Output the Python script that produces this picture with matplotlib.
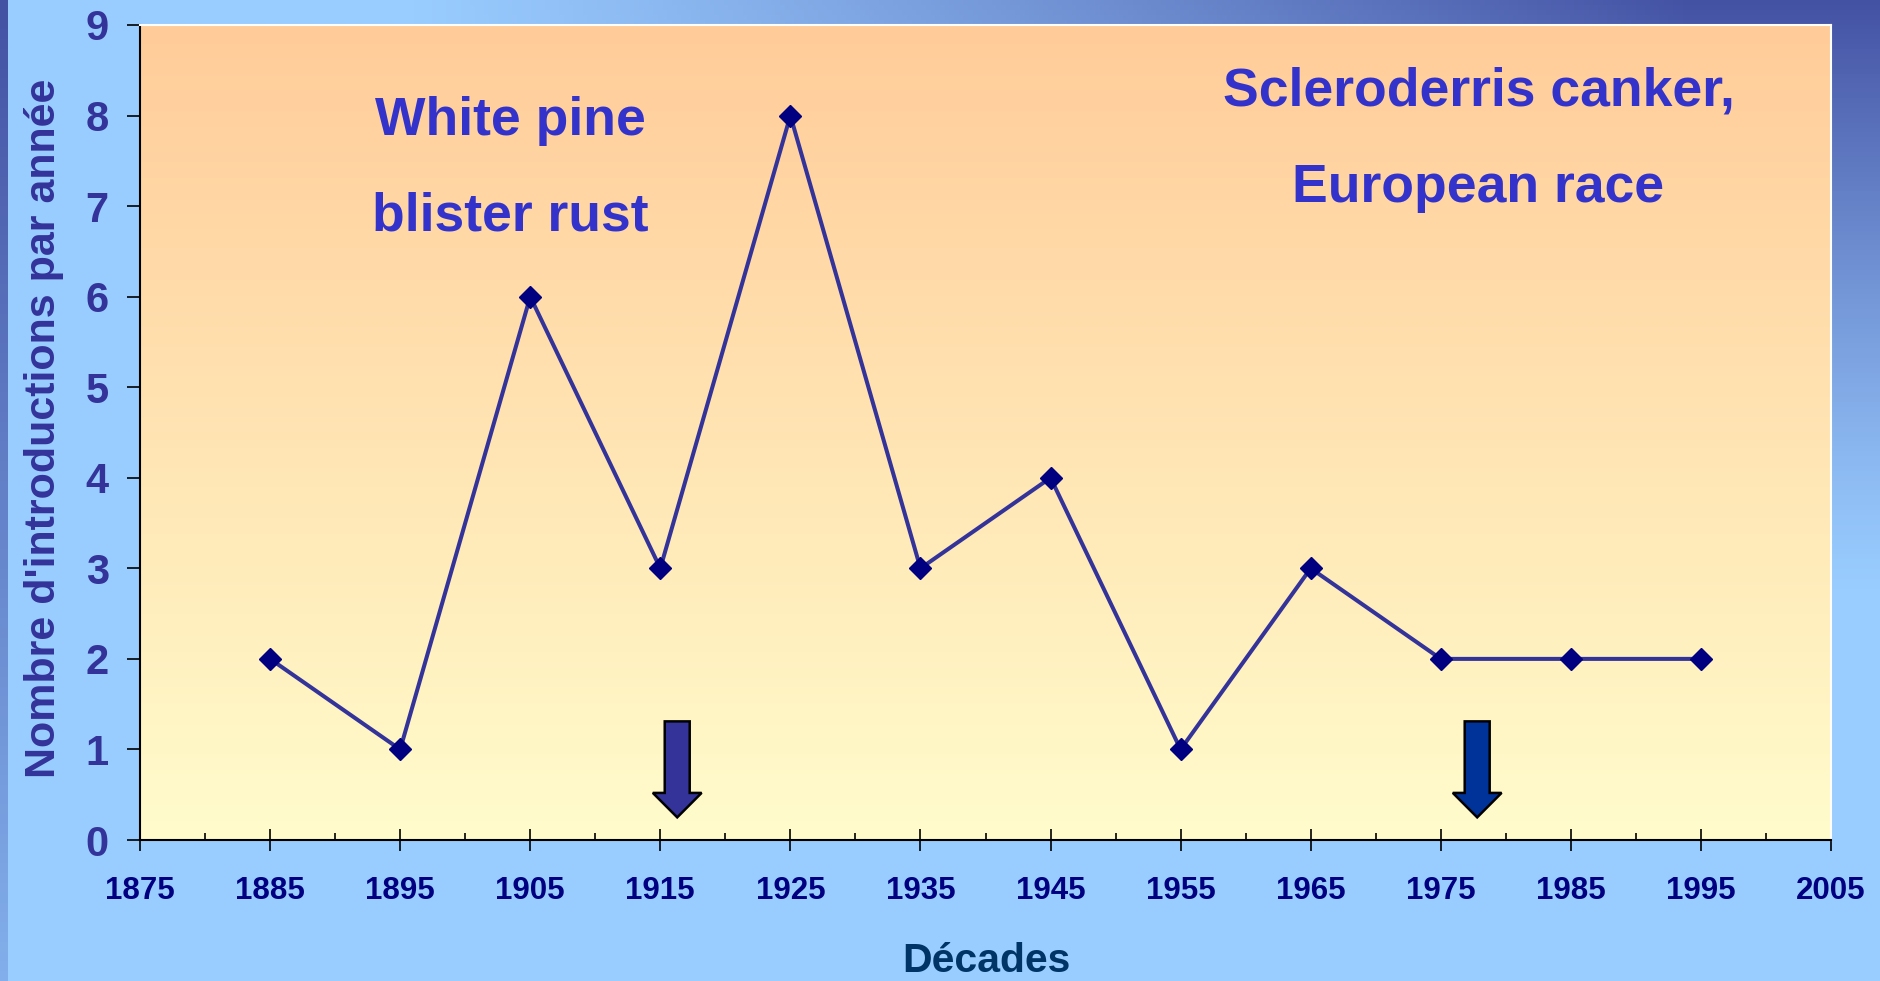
import numpy as np
import matplotlib
matplotlib.use("Agg")
import matplotlib.pyplot as plt
import matplotlib.patches as mpatches

plt.rcParams['font.family'] = ['Liberation Sans', 'DejaVu Sans']
plt.rcParams['font.weight'] = 'bold'

# ---- data ----
decades = [1885, 1895, 1905, 1915, 1925, 1935, 1945, 1955, 1965, 1975, 1985, 1995]
introductions = [2, 1, 6, 3, 8, 3, 4, 1, 3, 2, 2, 2]
xticks = [1875, 1885, 1895, 1905, 1915, 1925, 1935, 1945, 1955, 1965, 1975, 1985, 1995, 2005]
yticks = [0, 1, 2, 3, 4, 5, 6, 7, 8, 9]
annotation_lines = [["White pine", "blister rust"], ["Scleroderris canker,", "European race"]]
annotation_x = [1903.5, 1977.9]
annotation_baselines = [[7.785, 6.736], [8.116, 7.045]]
arrow_x = [1916.3, 1977.8]
arrow_colors = ['#333399', '#003399']
x_label = "Décades"
y_label = "Nombre d'introductions par année"

W, H = 1880, 981
fig = plt.figure(figsize=(W / 100, H / 100), dpi=100)

# ---- figure background gradient ----
bg = fig.add_axes([0, 0, 1, 1], zorder=-10)
ny, nx = 200, 400
xf = np.linspace(0, 1, nx)[None, :]
yf = np.linspace(0, 1, ny)[:, None]   # 0 = top
t = np.clip((xf - 0.22) / 0.68, 0, 1) ** 1.1 * np.clip(1 - yf / 0.6, 0, 1) ** 1.2
light = np.array([153, 204, 255]) / 255
dark = np.array([68, 82, 164]) / 255
img = light[None, None, :] * (1 - t[..., None]) + dark[None, None, :] * t[..., None]
bg.imshow(img, extent=[0, 1, 0, 1], aspect='auto', origin='upper')
# left stripe
st = np.linspace(0, 1, 100)[:, None]
stripe_top = np.array([68, 82, 164]) / 255
stripe_bot = np.array([130, 175, 235]) / 255
simg = stripe_top[None, None, :] * (1 - st[..., None]) + stripe_bot[None, None, :] * st[..., None]
simg = np.repeat(simg, 2, axis=1)
bg.imshow(simg, extent=[0, 8 / W, 0, 1], aspect='auto', origin='upper')
bg.set_xlim(0, 1)
bg.set_ylim(0, 1)
bg.axis('off')

# ---- main axes ----
ax = fig.add_axes([140 / W, 1 - 840 / H, (1831 - 140) / W, (840 - 25) / H])
ax.set_xlim(1875, 2005)
ax.set_ylim(0, 9)
ax.patch.set_alpha(0)

# plot area gradient
pg = np.linspace(0, 1, 256)[:, None]
ptop = np.array([255, 204, 153]) / 255
pbot = np.array([255, 252, 204]) / 255
pimg = ptop[None, None, :] * (1 - pg[..., None]) + pbot[None, None, :] * pg[..., None]
pimg = np.repeat(pimg, 2, axis=1)
ax.imshow(pimg, extent=[1875, 2005, 0, 9], aspect='auto', origin='upper', zorder=0)

ax.plot(decades, introductions, color='#333399', lw=2.9, zorder=3,
        marker='D', markersize=11.5, markerfacecolor='#000080', markeredgecolor='#000080')

# spines
for s in ['top', 'right']:
    ax.spines[s].set_color('white')
    ax.spines[s].set_linewidth(1.5)
for s in ['left', 'bottom']:
    ax.spines[s].set_color('black')
    ax.spines[s].set_linewidth(1.5)

ax.set_xticks(xticks)
ax.set_xticklabels([str(v) for v in xticks])
ax.set_xticks([v + 5 for v in xticks[:-1]], minor=True)
ax.set_yticks(yticks)
ax.set_yticklabels([str(v) for v in yticks])
ax.tick_params(axis='x', which='major', direction='inout', length=16, width=1.2,
               labelsize=22.5, labelcolor='#000080', pad=18)
ax.tick_params(axis='x', which='minor', direction='in', length=5, width=1.2)
ax.tick_params(axis='y', which='major', direction='out', length=9.5, width=1.2,
               labelsize=30, labelcolor='#333399', pad=13)
for lab in ax.get_xticklabels() + ax.get_yticklabels():
    lab.set_fontweight('bold')

# annotations
for lines, xa, bls in zip(annotation_lines, annotation_x, annotation_baselines):
    for line, b in zip(lines, bls):
        ax.text(xa, b, line, ha='center', va='baseline', fontsize=38.5,
                fontweight='bold', color='#3333CC', zorder=4)

# arrows
for xa, c in zip(arrow_x, arrow_colors):
    arr = mpatches.FancyArrow(xa, 1.31, 0, -1.06, width=1.92, head_width=3.75,
                              head_length=0.27, length_includes_head=True,
                              facecolor=c, edgecolor='black', lw=1.8, zorder=4)
    ax.add_patch(arr)

fig.text(44 / W, 1 - 428 / H, y_label, rotation=90, ha='center', va='center',
         fontsize=31, fontweight='bold', color='#333399')
fig.text(986 / W, 1 - 972 / H, x_label, ha='center', va='baseline',
         fontsize=29.5, fontweight='bold', color='#003366')

fig.savefig('out.png', dpi=100)
